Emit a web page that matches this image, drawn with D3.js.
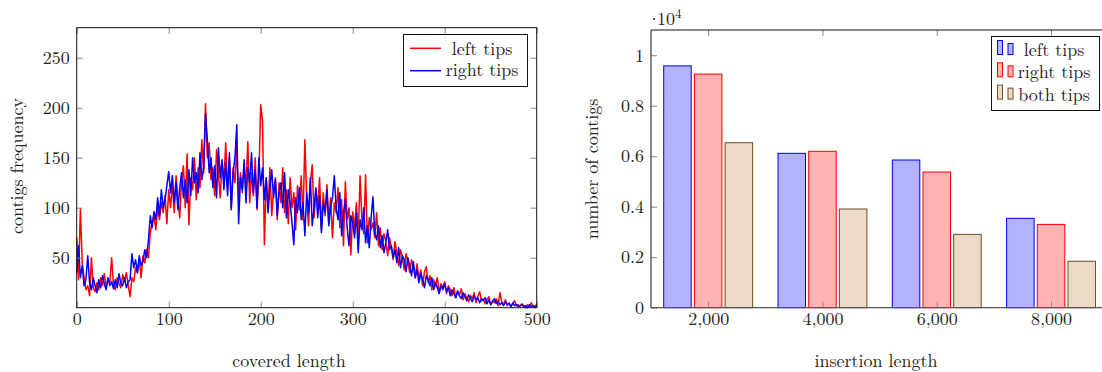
<!DOCTYPE html>
<html>
<head>
<meta charset="utf-8">
<script src="https://cdn.jsdelivr.net/npm/d3@7"></script>
<style>
  body { margin: 0; background: #fff; }
</style>
</head>
<body>
<svg id="chart" width="1102" height="372"></svg>
<script>
// ---- left chart data: contig frequency per covered length (step 2) ----
var lenStep = 2;
var leftTips = [
  70, 28, 99, 45, 30, 18, 22, 12, 50, 20, 16,
  25, 18, 30, 22, 34, 20, 28, 25, 50, 22,
  18, 30, 24, 20, 33, 26, 35, 22, 11, 30,
  26, 40, 35, 48, 30, 52, 45, 58, 50, 75,
  85, 92, 78, 100, 88, 105, 95, 112, 84, 118,
  100, 125, 95, 132, 108, 90, 128, 142, 100, 154,
  83, 130, 118, 150, 108, 140, 120, 168, 135, 204,
  150, 165, 128, 140, 112, 158, 135, 110, 145, 128,
  165, 118, 150, 100, 140, 125, 160, 108, 135, 115,
  142, 120, 166, 105, 135, 112, 150, 98, 130, 203,
  186, 63, 128, 100, 140, 92, 118, 130, 88, 125,
  105, 140, 95, 118, 84, 130, 100, 115, 78, 122,
  98, 132, 88, 168, 110, 82, 125, 143, 90, 118,
  100, 130, 78, 115, 92, 123, 85, 110, 70, 105,
  95, 120, 80, 108, 62, 126, 88, 100, 53, 96,
  80, 105, 70, 132, 88, 74, 133, 65, 90, 78,
  85, 70, 95, 62, 80, 58, 74, 66, 52, 70,
  60, 48, 66, 55, 42, 58, 50, 38, 54, 45,
  35, 48, 40, 30, 44, 28, 38, 22, 36, 41,
  25, 32, 18, 28, 22, 30, 15, 24, 20, 26,
  14, 22, 18, 12, 20, 10, 16, 13, 19, 8,
  14, 10, 6, 12, 9, 15, 5, 11, 16, 7,
  9, 4, 8, 11, 3, 7, 5, 9, 2, 15,
  6, 3, 8, 2, 5, 1, 4, 7, 2, 3,
  1, 4, 2, 0, 3, 1, 5, 2, 0, 4
];
var rightTips = [
  35, 62, 30, 42, 22, 28, 52, 25, 18, 30, 22,
  15, 28, 20, 32, 24, 18, 30, 22, 26, 19,
  28, 20, 34, 24, 22, 30, 20, 26, 28, 54,
  40, 48, 35, 52, 42, 46, 58, 50, 68, 92,
  80, 96, 88, 110, 92, 118, 100, 108, 122, 136,
  115, 132, 105, 125, 98, 120, 135, 110, 128, 105,
  138, 112, 150, 125, 135, 115, 155, 128, 140, 194,
  168, 135, 150, 120, 142, 110, 160, 130, 148, 118,
  145, 112, 155, 98, 135, 150, 183, 84, 130, 118,
  148, 105, 140, 125, 155, 115, 138, 100, 150, 122,
  140, 108, 130, 95, 120, 138, 110, 128, 92, 115,
  125, 100, 135, 90, 118, 105, 85, 63, 110, 95,
  120, 88, 105, 72, 115, 95, 130, 82, 100, 120,
  90, 112, 75, 105, 95, 118, 82, 100, 110, 132,
  100, 88, 115, 72, 95, 108, 80, 62, 92, 85,
  70, 95, 55, 88, 78, 100, 65, 82, 60, 90,
  111, 75, 68, 82, 60, 72, 55, 65, 78, 58,
  62, 50, 58, 45, 60, 40, 52, 48, 36, 50,
  42, 32, 46, 30, 38, 25, 34, 28, 20, 32,
  28, 22, 30, 18, 25, 20, 14, 22, 18, 24,
  16, 20, 12, 18, 14, 10, 17, 12, 9, 15,
  11, 7, 13, 9, 6, 12, 8, 10, 5, 9,
  7, 10, 4, 8, 3, 6, 9, 4, 7, 3,
  5, 2, 6, 3, 4, 1, 5, 2, 3, 1,
  2, 3, 1, 2, 0, 3, 1, 2, 1, 2
];
var lenTicks = [0, 100, 200, 300, 400, 500];
var freqTicks = [50, 100, 150, 200, 250];

// ---- right chart data: number of contigs per insertion length ----
var insertLengths = [2000, 4000, 6000, 8000];
var barLeft  = [9580, 6115, 5850, 3540];
var barRight = [9255, 6195, 5375, 3300];
var barBoth  = [6535, 3910, 2905, 1840];
var countTicks = [0, 2000, 4000, 6000, 8000, 10000];

var FONT = "'Latin Modern Roman', 'Liberation Serif'";
var svg = d3.select("#chart");

function frame(g, x0, x1, y0, y1) {
  g.append("rect")
    .attr("x", x0).attr("y", y1)
    .attr("width", x1 - x0).attr("height", y0 - y1)
    .attr("fill", "none").attr("stroke", "#111").attr("stroke-width", 1);
}

function styleAxis(g) {
  g.select(".domain").remove();
  g.selectAll(".tick line").attr("stroke", "#888").attr("stroke-width", 1);
  g.selectAll(".tick text").attr("fill", "#222")
    .style("font-family", FONT).style("font-size", "18px");
}

function label(g, txt, size) {
  return g.append("text").attr("fill", "#222")
    .style("font-family", FONT).style("font-size", size + "px").text(txt);
}

// ================= LEFT CHART =================
var xL = d3.scaleLinear().domain([0, 500]).range([76.7, 536.7]);
var yL = d3.scaleLinear().domain([0, 280]).range([307.7, 27.7]);

var gL = svg.append("g");

var line = d3.line()
  .x((d, i) => xL(i * lenStep))
  .y(d => yL(d));

gL.append("path").datum(leftTips)
  .attr("d", line).attr("fill", "none")
  .attr("stroke", "#ff0000").attr("stroke-width", 1.5).attr("stroke-linejoin", "round");
gL.append("path").datum(rightTips)
  .attr("d", line).attr("fill", "none")
  .attr("stroke", "#0000ff").attr("stroke-width", 1.5).attr("stroke-linejoin", "round");

gL.append("g").attr("transform", "translate(0," + yL(0) + ")")
  .call(d3.axisBottom(xL).tickValues(lenTicks).tickSizeInner(-6).tickSizeOuter(0).tickPadding(5))
  .call(styleAxis);
gL.append("g").attr("transform", "translate(0," + yL(280) + ")")
  .call(d3.axisTop(xL).tickValues(lenTicks).tickSizeInner(-6).tickSizeOuter(0).tickFormat(""))
  .call(styleAxis);
gL.append("g").attr("transform", "translate(" + xL(0) + ",0)")
  .call(d3.axisLeft(yL).tickValues(freqTicks).tickSizeInner(-6).tickSizeOuter(0).tickPadding(7))
  .call(styleAxis);
gL.append("g").attr("transform", "translate(" + xL(500) + ",0)")
  .call(d3.axisRight(yL).tickValues(freqTicks).tickSizeInner(-6).tickSizeOuter(0).tickFormat(""))
  .call(styleAxis);

frame(gL, xL(0), xL(500), yL(0), yL(280));

label(gL, "covered length", 18).attr("x", 289).attr("y", 367).attr("text-anchor", "middle");
label(gL, "contigs frequency", 18).attr("transform", "translate(23,166) rotate(-90)")
  .attr("text-anchor", "middle");

// legend
var legL = gL.append("g");
legL.append("rect").attr("x", 403.5).attr("y", 34.5).attr("width", 124).attr("height", 52)
  .attr("fill", "#fff").attr("stroke", "#111").attr("stroke-width", 1);
[["left tips", "#ff0000", 48.3, 54.5], ["right tips", "#0000ff", 70.7, 75.5]].forEach(function (e) {
  legL.append("line").attr("x1", 410).attr("x2", 441).attr("y1", e[2]).attr("y2", e[2])
    .attr("stroke", e[1]).attr("stroke-width", 1.5);
  label(legL, e[0], 18).attr("x", 482).attr("y", e[3]).attr("text-anchor", "middle");
});

// ================= RIGHT CHART =================
var xR = d3.scaleLinear().domain([1000, 9000]).range([651, 1108.2]);
var yR = d3.scaleLinear().domain([0, 11000]).range([307.7, 30]);

var gR = svg.append("g");

var series = [
  { name: "left tips",  values: barLeft,  fill: "#b3b3ff", stroke: "#0000ff", off: -30.7 },
  { name: "right tips", values: barRight, fill: "#ffb3b3", stroke: "#ff0000", off: 0 },
  { name: "both tips",  values: barBoth,  fill: "#ecd9c6", stroke: "#734d26", off: 30.7 }
];
var barW = 27.5;

series.forEach(function (s) {
  gR.append("g").selectAll("rect").data(s.values).enter().append("rect")
    .attr("x", (d, i) => xR(insertLengths[i]) + s.off - barW / 2)
    .attr("y", d => yR(d))
    .attr("width", barW)
    .attr("height", d => yR(0) - yR(d))
    .attr("fill", s.fill).attr("stroke", s.stroke).attr("stroke-width", 1);
});

gR.append("g").attr("transform", "translate(0," + yR(0) + ")")
  .call(d3.axisBottom(xR).tickValues(insertLengths).tickSizeInner(-6).tickSizeOuter(0).tickPadding(5)
    .tickFormat(d3.format(",")))
  .call(styleAxis);
gR.append("g").attr("transform", "translate(0," + yR(11000) + ")")
  .call(d3.axisTop(xR).tickValues(insertLengths).tickSizeInner(-6).tickSizeOuter(0).tickFormat(""))
  .call(styleAxis);
gR.append("g").attr("transform", "translate(" + xR(1000) + ",0)")
  .call(d3.axisLeft(yR).tickValues(countTicks).tickSizeInner(-6).tickSizeOuter(0).tickPadding(7)
    .tickFormat(d => d === 0 ? "0" : d === 10000 ? "1" : d3.format(".1f")(d / 10000)))
  .call(styleAxis);
gR.append("g").attr("transform", "translate(" + xR(9000) + ",0)")
  .call(d3.axisRight(yR).tickValues(countTicks).tickSizeInner(-6).tickSizeOuter(0).tickFormat(""))
  .call(styleAxis);

// frame: black on three sides, grey along the baseline
gR.append("path")
  .attr("d", "M" + xR(1000) + "," + yR(0) + "V" + yR(11000) + "H" + xR(9000) + "V" + yR(0))
  .attr("fill", "none").attr("stroke", "#111").attr("stroke-width", 1);
gR.append("line").attr("x1", xR(1000)).attr("x2", xR(9000)).attr("y1", yR(0)).attr("y2", yR(0))
  .attr("stroke", "#555").attr("stroke-width", 1.2);

var mult = label(gR, "", 18).attr("x", 647).attr("y", 25);
mult.append("tspan").text("\u00b7");
mult.append("tspan").attr("dx", -4).text("10");
mult.append("tspan").attr("dy", -7).style("font-size", "13px").text("4");

label(gR, "insertion length", 18).attr("x", 876).attr("y", 367).attr("text-anchor", "middle");
label(gR, "number of contigs", 18).attr("transform", "translate(598,169) rotate(-90)")
  .attr("text-anchor", "middle");

// legend
var legR = gR.append("g");
legR.append("rect").attr("x", 991.5).attr("y", 36.5).attr("width", 108).attr("height", 74)
  .attr("fill", "#fff").attr("stroke", "#111").attr("stroke-width", 1);
series.forEach(function (s, i) {
  var base = 56 + i * 22.3;
  legR.append("rect").attr("x", 997.5).attr("y", base - 15.5).attr("width", 5).attr("height", 14)
    .attr("fill", s.fill).attr("stroke", s.stroke).attr("stroke-width", 1);
  legR.append("rect").attr("x", 1008).attr("y", base - 12.5).attr("width", 5).attr("height", 11)
    .attr("fill", s.fill).attr("stroke", s.stroke).attr("stroke-width", 1);
  label(legR, s.name, 18).attr("x", 1054).attr("y", base).attr("text-anchor", "middle");
});
</script>
</body>
</html>
